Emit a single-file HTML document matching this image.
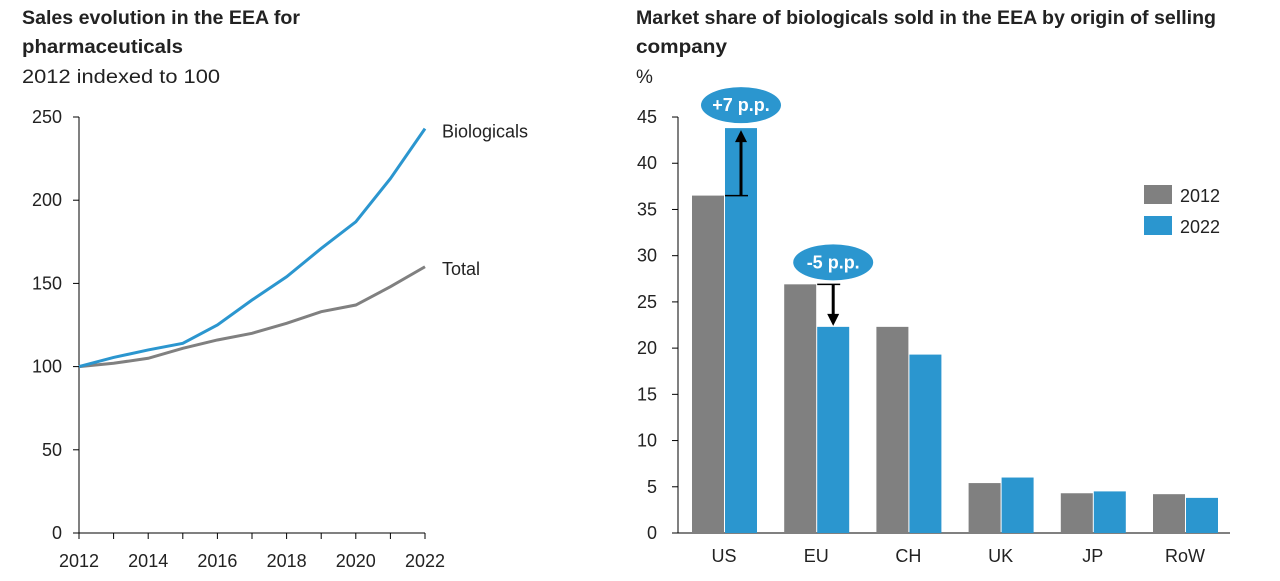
<!DOCTYPE html>
<html><head><meta charset="utf-8"><style>
body{margin:0;background:#fff;width:1280px;height:576px;overflow:hidden;font-family:"Liberation Sans",sans-serif}
svg text{font-family:"Liberation Sans",sans-serif;fill:#222}
</style></head><body>
<svg width="1280" height="576">
<text x="22" y="24" font-size="19" font-weight="bold" textLength="278" lengthAdjust="spacingAndGlyphs">Sales evolution in the EEA for</text>
<text x="22" y="53" font-size="19" font-weight="bold" textLength="161" lengthAdjust="spacingAndGlyphs">pharmaceuticals</text>
<text x="22" y="83" font-size="19" textLength="198" lengthAdjust="spacingAndGlyphs">2012 indexed to 100</text>
<text x="636" y="24" font-size="19" font-weight="bold" textLength="580" lengthAdjust="spacingAndGlyphs">Market share of biologicals sold in the EEA by origin of selling</text>
<text x="636" y="53" font-size="19" font-weight="bold" textLength="91" lengthAdjust="spacingAndGlyphs">company</text>
<text x="636" y="83" font-size="19">%</text>
<g id="left"></g>
<g id="right"></g>
</svg>
<script>
const years=[2012,2013,2014,2015,2016,2017,2018,2019,2020,2021,2022];
const bioValues=[100,105.5,110,114,125,140,154,171,187,213,243];
const totalValues=[100,102,105,111,116,120,126,133,137,148,160];
const leftTicks=[0,50,100,150,200,250];
const xTickYears=[2012,2014,2016,2018,2020,2022];
const categories=["US","EU","CH","UK","JP","RoW"];
const values2012=[36.5,26.9,22.3,5.4,4.3,4.2];
const values2022=[43.8,22.3,19.3,6.0,4.5,3.8];
const rightTicks=[0,5,10,15,20,25,30,35,40,45];
const NS="http://www.w3.org/2000/svg";
const FS=18;
function mk(p,t,a,txt){const e=document.createElementNS(NS,t);for(const k in a)e.setAttribute(k,a[k]);if(txt!=null)e.textContent=txt;p.appendChild(e);return e;}
const L=document.getElementById('left');
const lx=y=>79+(y-2012)*34.6, ly=v=>533-v*1.664;
mk(L,'line',{x1:79,y1:117,x2:79,y2:533,stroke:'#000'});
mk(L,'line',{x1:79,y1:533,x2:425,y2:533,stroke:'#000'});
leftTicks.forEach(v=>{
 mk(L,'line',{x1:73,x2:79,y1:ly(v),y2:ly(v),stroke:'#000'});
 const t=mk(L,'text',{x:62,y:ly(v)+6,'font-size':FS,'text-anchor':'end'},v);
 
 
});
years.forEach(y=>mk(L,'line',{x1:lx(y),x2:lx(y),y1:533,y2:539,stroke:'#000'}));
xTickYears.forEach(y=>{
 const t=mk(L,'text',{x:lx(y),y:567,'font-size':FS,'text-anchor':'middle'},y);
 
 
});
const tl=mk(L,'polyline',{points:years.map((y,i)=>lx(y)+','+ly(totalValues[i])).join(' '),fill:'none',stroke:'#808080','stroke-width':3});


const bl=mk(L,'polyline',{points:years.map((y,i)=>lx(y)+','+ly(bioValues[i])).join(' '),fill:'none',stroke:'#2b96cf','stroke-width':3});


const b1=mk(L,'text',{x:442,y:ly(bioValues[10])+9,'font-size':FS},'Biologicals');


const t1=mk(L,'text',{x:442,y:ly(totalValues[10])+8,'font-size':FS},'Total');



const R=document.getElementById('right');
const ry=v=>533-v*9.244, cx=i=>724+i*92.2;
mk(R,'line',{x1:678,y1:117,x2:678,y2:533,stroke:'#000'});
mk(R,'line',{x1:678,y1:533,x2:1230,y2:533,stroke:'#000'});
rightTicks.forEach(v=>{
 mk(R,'line',{x1:672,x2:678,y1:ry(v),y2:ry(v),stroke:'#000'});
 const t=mk(R,'text',{x:657,y:ry(v)+6,'font-size':FS,'text-anchor':'end'},v);
 
 
});
categories.forEach((c,i)=>{
 const g=mk(R,'rect',{x:cx(i)-32,y:ry(values2012[i]),width:32,height:values2012[i]*9.244,fill:'#808080'});
 
 
 const b=mk(R,'rect',{x:cx(i)+1,y:ry(values2022[i]),width:32,height:values2022[i]*9.244,fill:'#2b96cf'});
 
 
 const t=mk(R,'text',{x:cx(i),y:562,'font-size':FS,'text-anchor':'middle'},c);
 
 
});
function annot(i,label){
 const ax=cx(i)+17,y0=ry(values2012[i]),y1=ry(values2022[i]);
 mk(R,'line',{x1:ax-16,x2:ax+7,y1:y0,y2:y0,stroke:'#000','stroke-width':1.5});
 const up=y1<y0, tip=up?y1+2:y1-1;
 mk(R,'line',{x1:ax,x2:ax,y1:y0,y2:up?tip+10:tip-10,stroke:'#000','stroke-width':3});
 mk(R,'polygon',{points:up?`${ax-6},${tip+12} ${ax+6},${tip+12} ${ax},${tip}`:`${ax-6},${tip-12} ${ax+6},${tip-12} ${ax},${tip}`,fill:'#000'});
 const ey=up?y1-23:y0-22;
 const e=mk(R,'ellipse',{cx:ax,cy:ey,rx:40,ry:18,fill:'#2b96cf'});
 
 
 const t=mk(R,'text',{x:ax,y:ey+6,'font-size':18,'font-weight':'bold','text-anchor':'middle',style:'fill:#fff'},label);
 
 
}
annot(0,'+7 p.p.');annot(1,'-5 p.p.');
const lg1=mk(R,'rect',{x:1144,y:185,width:28,height:19,fill:'#808080'});


const lt1=mk(R,'text',{x:1180,y:202,'font-size':FS},'2012');


const lg2=mk(R,'rect',{x:1144,y:216,width:28,height:19,fill:'#2b96cf'});


const lt2=mk(R,'text',{x:1180,y:233,'font-size':FS},'2022');


</script>
</body></html>
